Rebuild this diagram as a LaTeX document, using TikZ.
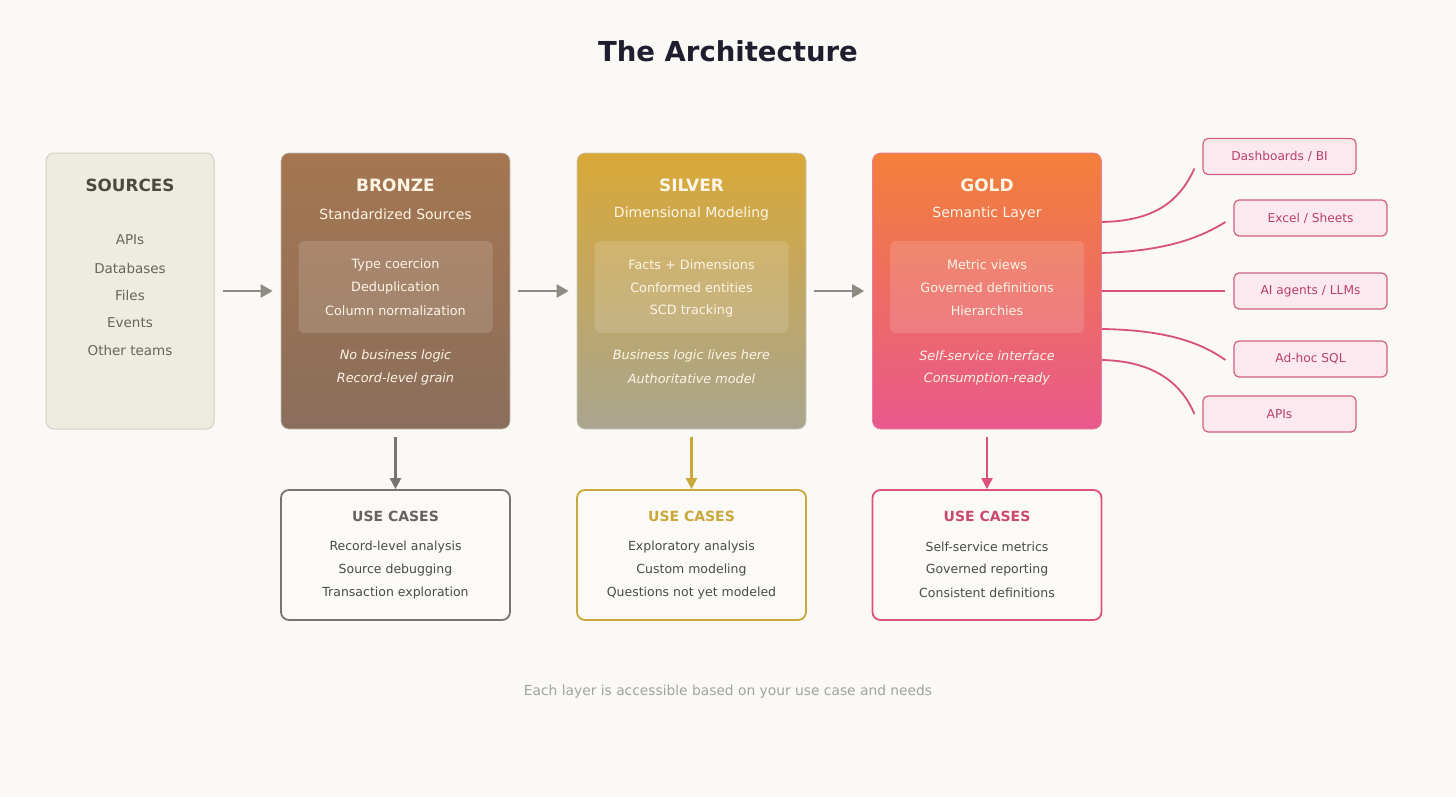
\documentclass[tikz,border=0pt]{standalone}
\usepackage{fontspec}
\setmainfont{DejaVu Sans}
\usetikzlibrary{arrows.meta,calc}
\definecolor{bg}{HTML}{FAF9F6}
\definecolor{titlec}{HTML}{1E1E2E}
\definecolor{srcfill}{HTML}{EEEBE1}
\definecolor{srcdraw}{HTML}{D2CFC3}
\definecolor{srctext}{HTML}{4A4A40}
\definecolor{srcitem}{HTML}{66665E}
\definecolor{brtop}{HTML}{A57650}
\definecolor{brbot}{HTML}{8A6E5C}
\definecolor{sitop}{HTML}{D9A938}
\definecolor{sibot}{HTML}{A9A58F}
\definecolor{gotop}{HTML}{F2803A}
\definecolor{gobot}{HTML}{E8598C}
\definecolor{cream}{HTML}{FDF5E6}
\definecolor{arrowc}{HTML}{8E8C82}
\definecolor{brarr}{HTML}{777570}
\definecolor{siarr}{HTML}{C9A73A}
\definecolor{goarr}{HTML}{E0507C}
\definecolor{ucfill}{HTML}{FBFAF7}
\definecolor{uctxt}{HTML}{4A4A48}
\definecolor{pinkfill}{HTML}{FCE9EF}
\definecolor{pinkdraw}{HTML}{D0607F}
\definecolor{pinktxt}{HTML}{B8406C}
\definecolor{curvec}{HTML}{D8507C}
\definecolor{footc}{HTML}{A3A39E}
\tikzset{
  layer/.style={rounded corners=8pt, minimum width=229pt, minimum height=276pt, inner sep=0pt, line width=0.6pt},
  inner/.style={rounded corners=6pt, fill=white, fill opacity=0.14, minimum width=194pt, minimum height=92pt, inner sep=0pt},
  ltitle/.style={font=\fontsize{17}{20}\selectfont\bfseries, text=cream},
  lsub/.style={font=\fontsize{14}{16}\selectfont, text=cream},
  litem/.style={font=\fontsize{12.8}{15}\selectfont, text=cream},
  lital/.style={font=\fontsize{12.8}{15}\selectfont\itshape, text=cream},
  ucbox/.style={rounded corners=8pt, fill=ucfill, line width=1.8pt, minimum width=229pt, minimum height=130pt, inner sep=0pt},
  uctitle/.style={font=\fontsize{14}{17}\selectfont\bfseries},
  ucitem/.style={font=\fontsize{12.5}{15}\selectfont, text=uctxt},
  flow/.style={line width=2.4pt, arrowc, -{Triangle[length=12pt,width=13pt]}},
  down/.style={line width=2.2pt, -{Triangle[length=11pt,width=11pt]}},
  cons/.style={rounded corners=5pt, fill=pinkfill, draw=pinkdraw, line width=1.2pt, minimum width=153pt, minimum height=36pt, inner sep=0pt, font=\fontsize{12.2}{14}\selectfont, text=pinktxt},
  curve/.style={line width=1.8pt, curvec}
}
\begin{document}
\begin{tikzpicture}[x=1pt,y=-1pt]
\fill[bg] (0,0) rectangle (1456,797);
\useasboundingbox (0,0) rectangle (1456,797);

\node[font=\fontsize{27.5}{32}\selectfont\bfseries, text=titlec] (title) at (728,51) {The Architecture};

% Sources
\node[layer, minimum width=168pt, fill=srcfill, draw=srcdraw, line width=1pt] (src) at (130,291) {};
\node[font=\fontsize{16.8}{19}\selectfont\bfseries, text=srctext] (srct) at (130,185) {SOURCES};
\foreach \t/\y [count=\i] in {APIs/240, Databases/268, Files/295, Events/323, Other teams/350}
  \node[font=\fontsize{13.5}{16}\selectfont, text=srcitem] (src\i) at (130,\y) {\t};

% Bronze
\node[layer, top color=brtop, bottom color=brbot, draw=brbot!80!black!40] (bronze) at (395.5,291) {};
\node[inner] (brin) at (395.5,287) {};
\node[ltitle] (brt) at (395.5,185) {BRONZE};
\node[lsub] (brs) at (395.5,214) {Standardized Sources};
\node[litem] (bri1) at (395.5,265) {Type coercion};
\node[litem] (bri2) at (395.5,288) {Deduplication};
\node[litem] (bri3) at (395.5,311) {Column normalization};
\node[lital] (bra1) at (395.5,356) {No business logic};
\node[lital] (bra2) at (395.5,379) {Record-level grain};

% Silver
\node[layer, top color=sitop, bottom color=sibot, draw=sibot!60] (silver) at (691.5,291) {};
\node[inner] (siin) at (691.5,287) {};
\node[ltitle] (sit) at (691.5,185) {SILVER};
\node[lsub] (sis) at (691.5,214) {Dimensional Modeling};
\node[litem] (sii1) at (691.5,265) {Facts + Dimensions};
\node[litem] (sii2) at (691.5,288) {Conformed entities};
\node[litem] (sii3) at (691.5,311) {SCD tracking};
\node[lital] (sia1) at (691.5,356) {Business logic lives here};
\node[lital] (sia2) at (691.5,379) {Authoritative model};

% Gold
\node[layer, top color=gotop, bottom color=gobot, draw=gobot!80] (gold) at (987,291) {};
\node[inner] (goin) at (987,287) {};
\node[ltitle] (got) at (987,185) {GOLD};
\node[lsub] (gos) at (987,214) {Semantic Layer};
\node[litem] (goi1) at (987,265) {Metric views};
\node[litem] (goi2) at (987,288) {Governed definitions};
\node[litem] (goi3) at (987,311) {Hierarchies};
\node[lital] (goa1) at (987,356) {Self-service interface};
\node[lital] (goa2) at (987,379) {Consumption-ready};

% flow arrows
\draw[flow, shorten <=8pt, shorten >=8pt] (src.east |- 0,291) -- (bronze.west);
\draw[flow, shorten <=8pt, shorten >=8pt] (bronze.east) -- (silver.west);
\draw[flow, shorten <=8pt, shorten >=8pt] (silver.east) -- (gold.west);

% use cases
\node[ucbox, draw=brarr] (uc1) at (395.5,555) {};
\node[ucbox, draw=siarr] (uc2) at (691.5,555) {};
\node[ucbox, draw=goarr] (uc3) at (987,555) {};
\node[uctitle, text=brarr!85!black] (uc1t) at (395.5,516) {USE CASES};
\node[uctitle, text=siarr] (uc2t) at (691.5,516) {USE CASES};
\node[uctitle, text=goarr!90!black] (uc3t) at (987,516) {USE CASES};
\foreach \t/\y [count=\i] in {Record-level analysis/547, Source debugging/570, Transaction exploration/593}
  \node[ucitem] (uca\i) at (395.5,\y) {\t};
\foreach \t/\y [count=\i] in {Exploratory analysis/547, Custom modeling/570, Questions not yet modeled/593}
  \node[ucitem] (ucb\i) at (691.5,\y) {\t};
\foreach \t/\y [count=\i] in {Self-service metrics/547, Governed reporting/570, Consistent definitions/593}
  \node[ucitem] (ucc\i) at (987,\y) {\t};

\draw[down, brarr, shorten <=8pt] (bronze.south) -- (uc1.north);
\draw[down, siarr, shorten <=8pt] (silver.south) -- (uc2.north);
\draw[down, goarr, shorten <=8pt] (gold.south) -- (uc3.north);

% consumers
\node[cons] (c1) at (1279.5,156.5) {Dashboards / BI};
\node[cons] (c2) at (1310.5,218) {Excel / Sheets};
\node[cons] (c3) at (1310.5,291) {AI agents / LLMs};
\node[cons] (c4) at (1310.5,359) {Ad-hoc SQL};
\node[cons] (c5) at (1279.5,414) {APIs};

\coordinate (e1) at ($(c1.west)+(-8,12)$);
\coordinate (e2) at ($(c2.west)+(-8,4)$);
\coordinate (e3) at ($(c3.west)+(-8,0)$);
\coordinate (e4) at ($(c4.west)+(-8,1)$);
\coordinate (e5) at ($(c5.west)+(-8,0)$);
\coordinate (s1) at (gold.east |- 0,222);
\coordinate (s2) at (gold.east |- 0,253);
\coordinate (s3) at (gold.east |- 0,291);
\coordinate (s4) at (gold.east |- 0,329);
\coordinate (s5) at (gold.east |- 0,360);
\draw[curve] (s1) .. controls (1150,221) and (1178,205) .. (e1);
\draw[curve] (s2) .. controls (1165,251) and (1200,238) .. (e2);
\draw[curve] (s3) -- (e3);
\draw[curve] (s4) .. controls (1165,330) and (1200,342) .. (e4);
\draw[curve] (s5) .. controls (1150,361) and (1180,380) .. (e5);

\node[font=\fontsize{13.8}{16}\selectfont, text=footc] (foot) at (728,692) {Each layer is accessible based on your use case and needs};
\end{tikzpicture}
\end{document}
